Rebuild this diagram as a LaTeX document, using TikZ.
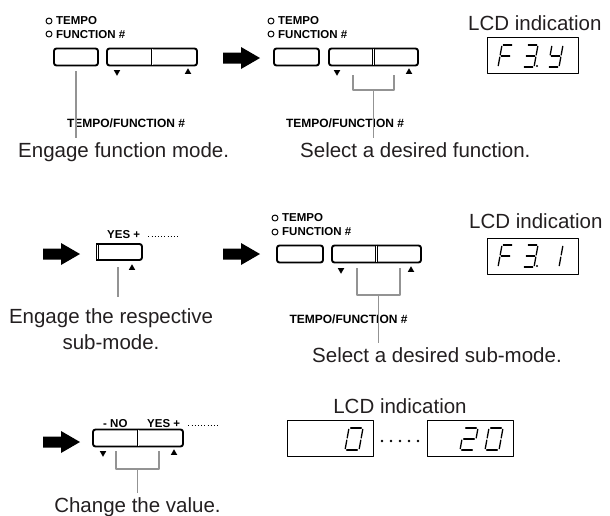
\documentclass[tikz,border=0pt]{standalone}
\usepackage{fontspec}
\setmainfont{Liberation Sans}
\usetikzlibrary{shapes.geometric, calc}
\definecolor{ink}{HTML}{231F20}
\definecolor{leadgray}{HTML}{939393}

% seven segment digit: [width]{x}{y of bottom}{segments}
\newcommand{\lcddigit}[4][11]{%
  \begin{scope}[shift={(#2,#3)}, x={(#1pt,0pt)}, y={(4pt,22pt)}]
    \coordinate (sega1) at (0.12,1);   \coordinate (sega2) at (0.88,1);
    \coordinate (segb1) at (1,0.94);   \coordinate (segb2) at (1,0.55);
    \coordinate (segc1) at (1,0.45);   \coordinate (segc2) at (1,0.06);
    \coordinate (segd1) at (0.12,0);   \coordinate (segd2) at (0.88,0);
    \coordinate (sege1) at (0,0.45);   \coordinate (sege2) at (0,0.06);
    \coordinate (segf1) at (0,0.94);   \coordinate (segf2) at (0,0.55);
    \coordinate (segg1) at (0.12,0.5); \coordinate (segg2) at (0.88,0.5);
    \foreach \s in {#4} \draw[lcdseg] (seg\s1) -- (seg\s2);
  \end{scope}}

\begin{document}
\begin{tikzpicture}[x=1pt, y=-1pt, line join=round,
  btn/.style={draw, line width=1.9pt, rounded corners=2.5pt, minimum height=17pt, inner sep=0pt},
  keylbl/.style={font=\fontsize{11.5}{13}\selectfont\bfseries, inner sep=0pt},
  panellbl/.style={font=\fontsize{12}{14}\selectfont\bfseries, inner sep=0pt},
  caption/.style={font=\fontsize{20.5}{26}\selectfont, text=ink, inner sep=0pt},
  lcdbox/.style={draw, line width=0.9pt, minimum height=36pt, inner sep=0pt},
  lcdseg/.style={line width=1.3pt, line cap=round},
  leader/.style={draw=leadgray, line width=1.8pt},
  lamp/.style={circle, draw, line width=1pt, inner sep=0pt, minimum size=6pt},
  dnmark/.style={regular polygon, regular polygon sides=3, shape border rotate=180, fill, inner sep=0pt, minimum size=7.5pt},
  upmark/.style={regular polygon, regular polygon sides=3, fill, inner sep=0pt, minimum size=7.5pt},
  moredots/.style={line width=0.8pt, dash pattern=on 0.8pt off 2.4pt},
  divider/.style={line width=2.6pt},
  gap/.style={white, line width=0.7pt, shorten <=1pt, shorten >=1pt},
  fatarrow/.pic={\fill (0,-5.5) -- (18,-5.5) -- (18,-11) -- (37,0) -- (18,11) -- (18,5.5) -- (0,5.5) -- cycle;}]
  \useasboundingbox (0,0) rectangle (610,515);

  % Step 1: function mode
  \node[lamp] (lt1) at (49,21) {};
  \node[keylbl, anchor=base west] (kt1) at (56,24) {TEMPO};
  \node[lamp] (lf1) at (49,34) {};
  \node[keylbl, anchor=base west] (kf1) at (56,38) {FUNCTION \#};
  \node[btn, minimum width=44pt] (tb1) at (76,57) {};
  \node[btn, minimum width=90pt] (fp1) at (152,57) {};
  \draw[divider] (fp1.north) -- (fp1.south);
  \draw[gap] (fp1.north) -- (fp1.south);
  \node[dnmark] (dn1) at (117,72) {};
  \node[upmark] (up1) at (188,72) {};
  \node[panellbl, anchor=base] (tf1) at (126,127) {TEMPO/FUNCTION \#};
  \node[caption, anchor=base west] (eng) at (18,157) {Engage function mode.};
  \draw[leader] ([yshift=-14pt]tb1.center) -- ([yshift=4pt]tb1.center |- eng.north);

  % Step 2: choose function
  \pic at (223,58) {fatarrow};
  \node[lamp] (lt2) at (271,21) {};
  \node[keylbl, anchor=base west] (kt2) at (278,24) {TEMPO};
  \node[lamp] (lf2) at (271,34) {};
  \node[keylbl, anchor=base west] (kf2) at (278,38) {FUNCTION \#};
  \node[btn, minimum width=45pt] (tb2) at (296.5,57) {};
  \node[btn, minimum width=89pt] (fp2) at (373.5,57) {};
  \draw[divider] (fp2.north) -- (fp2.south);
  \draw[gap] (fp2.north) -- (fp2.south);
  \node[dnmark] (dn2) at (337,72) {};
  \node[upmark] (up2) at (409,72) {};
  \node[panellbl, anchor=base] (tf2) at (345,127) {TEMPO/FUNCTION \#};
  \node[caption, anchor=base west] (sel1) at (300,157) {Select a desired function.};
  \coordinate (br2) at (373.5,90);
  \draw[leader] (353,75) |- (394,90) -- (394,75);
  \draw[leader] (br2) -- ([yshift=4pt]br2 |- sel1.north);

  % LCD 1
  \node[caption, anchor=base west] (lcd1) at (468,30) {LCD indication};
  \node[lcdbox, minimum width=91pt] (box1) at (532.5,55) {};
  \lcddigit{498}{67}{a,f,g,e}
  \lcddigit{523}{67}{a,b,g,c,d}
  \fill (537,66) circle (1.2);
  \lcddigit{548}{67}{f,b,g,c,d}

  % Step 3: sub-mode
  \pic at (43,254) {fatarrow};
  \node[keylbl, anchor=base west] (yes1) at (107,238) {YES +};
  \draw[moredots] ([xshift=8pt, yshift=2pt]yes1.base east) -- ++(30,0);
  \draw[line width=1.9pt, rounded corners=2.5pt] (96,244) -- (142,244) -- (142,260) -- (96,260);
  \draw[divider] (97.5,244) -- (97.5,260);
  \draw[gap] (97.5,244) -- (97.5,260);
  \node[upmark] (up3) at (132,268) {};
  \coordinate (hbs) at (118,260);
  \node[caption, align=center, anchor=north] (resp) at (111,308) {Engage the respective\\sub-mode.};
  \draw[leader] ([yshift=-7pt]hbs) -- ([yshift=11pt]hbs |- resp.north);

  % Step 4: choose sub-mode
  \pic at (223,254) {fatarrow};
  \node[lamp] (lt3) at (275,218) {};
  \node[keylbl, anchor=base west] (kt3) at (282,221) {TEMPO};
  \node[lamp] (lf3) at (275,232) {};
  \node[keylbl, anchor=base west] (kf3) at (282,235) {FUNCTION \#};
  \node[btn, minimum width=46pt] (tb3) at (300,254) {};
  \node[btn, minimum width=89pt] (fp3) at (376.5,254) {};
  \draw[divider] (fp3.north) -- (fp3.south);
  \draw[gap] (fp3.north) -- (fp3.south);
  \node[dnmark] (dn3) at (341,270) {};
  \node[upmark] (up4) at (411,270) {};
  \node[panellbl, anchor=base] (tf3) at (348.5,323) {TEMPO/FUNCTION \#};
  \node[caption, anchor=base west] (sel2) at (312,362) {Select a desired sub-mode.};
  \coordinate (br3) at (378.5,295);
  \draw[leader] (357,268) |- (400,295) -- (400,268);
  \draw[leader] (br3) -- ([yshift=4pt]br3 |- sel2.north);

  % LCD 2
  \node[caption, anchor=base west] (lcd2) at (469,228) {LCD indication};
  \node[lcdbox, minimum width=91pt] (box2) at (532.5,256.5) {};
  \lcddigit{498}{267}{a,f,g,e}
  \lcddigit{523}{267}{a,b,g,c,d}
  \fill (537,266) circle (1.2);
  \lcddigit{548}{267}{b,c}

  % Step 5: change value
  \pic at (43,442) {fatarrow};
  \node[keylbl, anchor=base west] (no) at (103,427) {- NO};
  \node[keylbl, anchor=base west] (yes2) at (147,427) {YES +};
  \draw[moredots] ([xshift=8pt, yshift=2pt]yes2.base east) -- ++(30,0);
  \node[btn, minimum width=90pt] (fp4) at (138,438) {};
  \draw[divider] (fp4.north) -- (fp4.south);
  \draw[gap] (fp4.north) -- (fp4.south);
  \node[dnmark] (dn4) at (103,453) {};
  \node[upmark] (up5) at (174,453) {};
  \node[caption, anchor=base] (chg) at (137.5,512) {Change the value.};
  \coordinate (br4) at (137.5,469);
  \draw[leader] (116,451) |- (159,469) -- (159,451);
  \draw[leader] (br4) -- ([yshift=4pt]br4 |- chg.north);

  % LCD 3
  \node[caption, anchor=base] (lcd3) at (400,413) {LCD indication};
  \node[lcdbox, minimum width=86pt] (box3) at (330,438.5) {};
  \node[lcdbox, minimum width=86pt] (box4) at (470,438.5) {};
  \foreach \i in {0,...,4} \fill (382+9*\i,441) circle (1.4);
  \lcddigit[14]{345}{450}{a,b,c,d,e,f}
  \lcddigit[14]{460}{450}{a,b,g,e,d}
  \lcddigit[14]{485}{450}{a,b,c,d,e,f}
\end{tikzpicture}
\end{document}
